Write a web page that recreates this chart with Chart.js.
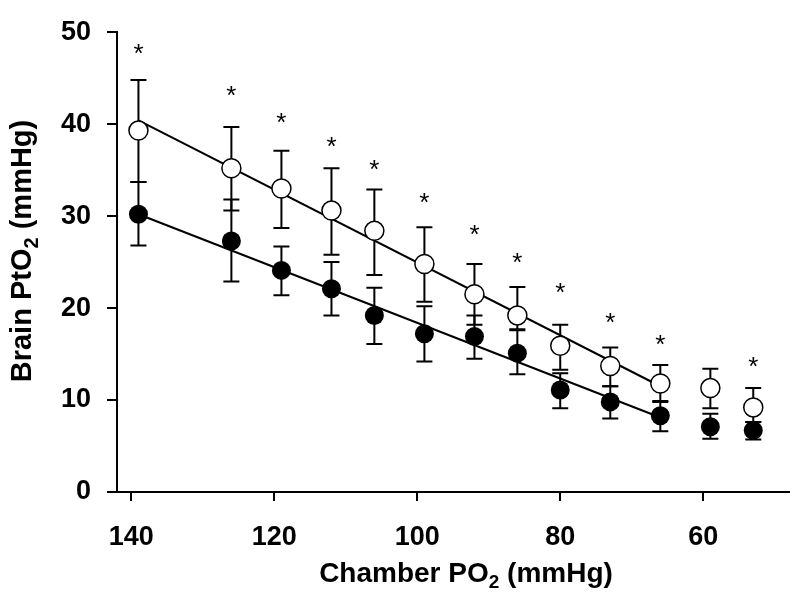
<!DOCTYPE html>
<html>
<head>
<meta charset="utf-8">
<script src="https://cdn.jsdelivr.net/npm/chart.js@4/dist/chart.umd.min.js"></script>
<style>
  body { margin: 0; background: #fff; }
  #wrap { width: 800px; height: 601px; }
</style>
</head>
<body>
<div id="wrap"><canvas id="myChart" width="800" height="601"></canvas></div>
<script>
// chamber PO2 levels (mmHg)
var chamberPO2 = [139, 126, 119, 112, 106, 99, 92, 86, 80, 73, 66, 59, 53];

// open circles
var openMean  = [39.3, 35.2, 33.0, 30.6, 28.4, 24.8, 21.5, 19.2, 15.9, 13.7, 11.8, 11.3, 9.2];
var openUpper = [44.8, 39.7, 37.1, 35.2, 32.9, 28.8, 24.8, 22.3, 18.2, 15.7, 13.8, 13.4, 11.3];
var openLower = [33.7, 30.6, 28.7, 25.8, 23.6, 20.7, 18.2, 17.7, 13.3, 11.5, 9.9, 9.1, 7.6];

// filled circles
var filledMean  = [30.2, 27.3, 24.1, 22.1, 19.2, 17.2, 16.9, 15.1, 11.1, 9.8, 8.3, 7.1, 6.7];
var filledUpper = [33.7, 31.8, 26.7, 25.0, 22.2, 20.2, 19.2, 17.6, 12.9, 11.5, 9.8, 8.5, 7.6];
var filledLower = [26.8, 22.9, 21.4, 19.2, 16.1, 14.2, 14.5, 12.8, 9.1, 8.0, 6.6, 5.8, 5.7];

// regression lines (end points)
var openFitX = [139, 66];
var openFitY = [40.4, 11.5];
var filledFitX = [139, 66];
var filledFitY = [30.2, 8.1];

// significance marks
var starX = [139, 126, 119, 112, 106, 99, 92, 86, 80, 73, 66, 53];
var starY = [48.2, 43.6, 40.7, 38.1, 35.6, 32.0, 28.5, 25.4, 22.2, 18.9, 16.5, 14.1];

var xTicks = [140, 120, 100, 80, 60];
var yTicks = [0, 10, 20, 30, 40, 50];

var FONT = "'Liberation Sans', Arial, sans-serif";

function toPoints(xs, ys) {
  var pts = [];
  for (var i = 0; i < xs.length; i++) pts.push({x: xs[i], y: ys[i]});
  return pts;
}

// error bars, drawn under the circles
var errorBars = {
  id: 'errorBars',
  beforeDatasetsDraw(chart) {
    var ctx = chart.ctx;
    var xs = chart.scales.x, ys = chart.scales.y;
    var sets = [[openUpper, openLower], [filledUpper, filledLower]];
    ctx.save();
    ctx.strokeStyle = '#000';
    ctx.lineWidth = 2;
    for (var s of sets) {
      for (var i = 0; i < chamberPO2.length; i++) {
        var px = xs.getPixelForValue(chamberPO2[i]);
        var top = ys.getPixelForValue(s[0][i]);
        var bot = ys.getPixelForValue(s[1][i]);
        ctx.beginPath();
        ctx.moveTo(px, top); ctx.lineTo(px, bot);
        ctx.moveTo(px - 8, top); ctx.lineTo(px + 8, top);
        ctx.moveTo(px - 8, bot); ctx.lineTo(px + 8, bot);
        ctx.stroke();
      }
    }
    ctx.restore();
  }
};

// asterisks + axis titles with subscript
var extras = {
  id: 'extras',
  afterDraw(chart) {
    var ctx = chart.ctx;
    var xs = chart.scales.x, ys = chart.scales.y;
    ctx.save();
    ctx.fillStyle = '#000';
    ctx.font = '26px ' + FONT;
    ctx.textAlign = 'center';
    ctx.textBaseline = 'alphabetic';
    var m = ctx.measureText('*');
    var off = (m.actualBoundingBoxAscent - m.actualBoundingBoxDescent) / 2;
    for (var i = 0; i < starX.length; i++) {
      ctx.fillText('*', xs.getPixelForValue(starX[i]), ys.getPixelForValue(starY[i]) + off);
    }

    // x title
    drawSubTitle(ctx, ['Chamber PO', '2', ' (mmHg)'], 466, 582, 28, 19, 6);

    // y title
    ctx.translate(31, 251);
    ctx.rotate(-Math.PI / 2);
    drawSubTitle(ctx, ['Brain PtO', '2', ' (mmHg)'], 0, 0, 29, 20, 7);
    ctx.restore();
  }
};

function drawSubTitle(ctx, parts, cx, baseY, size, subSize, drop) {
  ctx.textAlign = 'left';
  ctx.textBaseline = 'alphabetic';
  var big = 'bold ' + size + 'px ' + FONT;
  var small = 'bold ' + subSize + 'px ' + FONT;
  ctx.font = big;
  var w0 = ctx.measureText(parts[0]).width;
  var w2 = ctx.measureText(parts[2]).width;
  ctx.font = small;
  var w1 = ctx.measureText(parts[1]).width;
  var x = cx - (w0 + w1 + w2) / 2;
  ctx.font = big;
  ctx.fillText(parts[0], x, baseY);
  ctx.font = small;
  ctx.fillText(parts[1], x + w0, baseY + drop);
  ctx.font = big;
  ctx.fillText(parts[2], x + w0 + w1, baseY);
}

var ctx = document.getElementById('myChart').getContext('2d');
var chart = new Chart(ctx, {
  type: 'scatter',
  data: {
    datasets: [
      {
        label: 'open',
        data: toPoints(chamberPO2, openMean),
        pointRadius: 9.5,
        pointBackgroundColor: '#fff',
        pointBorderColor: '#000',
        pointBorderWidth: 1.5,
        order: 0
      },
      {
        label: 'filled',
        data: toPoints(chamberPO2, filledMean),
        pointRadius: 9.5,
        pointBackgroundColor: '#000',
        pointBorderColor: '#000',
        pointBorderWidth: 0,
        order: 1
      },
      {
        type: 'line',
        label: 'open fit',
        data: toPoints(openFitX, openFitY),
        borderColor: '#000',
        borderWidth: 2,
        pointRadius: 0,
        order: 2
      },
      {
        type: 'line',
        label: 'filled fit',
        data: toPoints(filledFitX, filledFitY),
        borderColor: '#000',
        borderWidth: 2,
        pointRadius: 0,
        order: 3
      }
    ]
  },
  options: {
    responsive: false,
    animation: false,
    layout: { padding: { top: 18, right: 4, left: 0, bottom: 0 } },
    plugins: {
      legend: { display: false },
      tooltip: { enabled: false }
    },
    scales: {
      x: {
        type: 'linear',
        reverse: true,
        min: 48,
        max: 142,
        afterBuildTicks: function(scale) {
          scale.ticks = xTicks.map(function(v) { return {value: v}; });
        },
        afterFit: function(scale) { scale.height = 109; },
        grid: { drawOnChartArea: false, drawTicks: true, tickLength: 9, color: '#000', lineWidth: 2 },
        border: { color: '#000', width: 2 },
        ticks: {
          color: '#000',
          font: { family: FONT, size: 27, weight: 'bold' },
          padding: 20,
          maxRotation: 0
        }
      },
      y: {
        min: 0,
        max: 50,
        afterBuildTicks: function(scale) {
          scale.ticks = yTicks.map(function(v) { return {value: v}; });
        },
        afterFit: function(scale) { scale.width = 117; },
        grid: { drawOnChartArea: false, drawTicks: true, tickLength: 10, color: '#000', lineWidth: 2 },
        border: { color: '#000', width: 2 },
        ticks: {
          color: '#000',
          font: { family: FONT, size: 27, weight: 'bold' },
          padding: 16
        }
      }
    }
  },
  plugins: [errorBars, extras]
});
</script>
</body>
</html>
